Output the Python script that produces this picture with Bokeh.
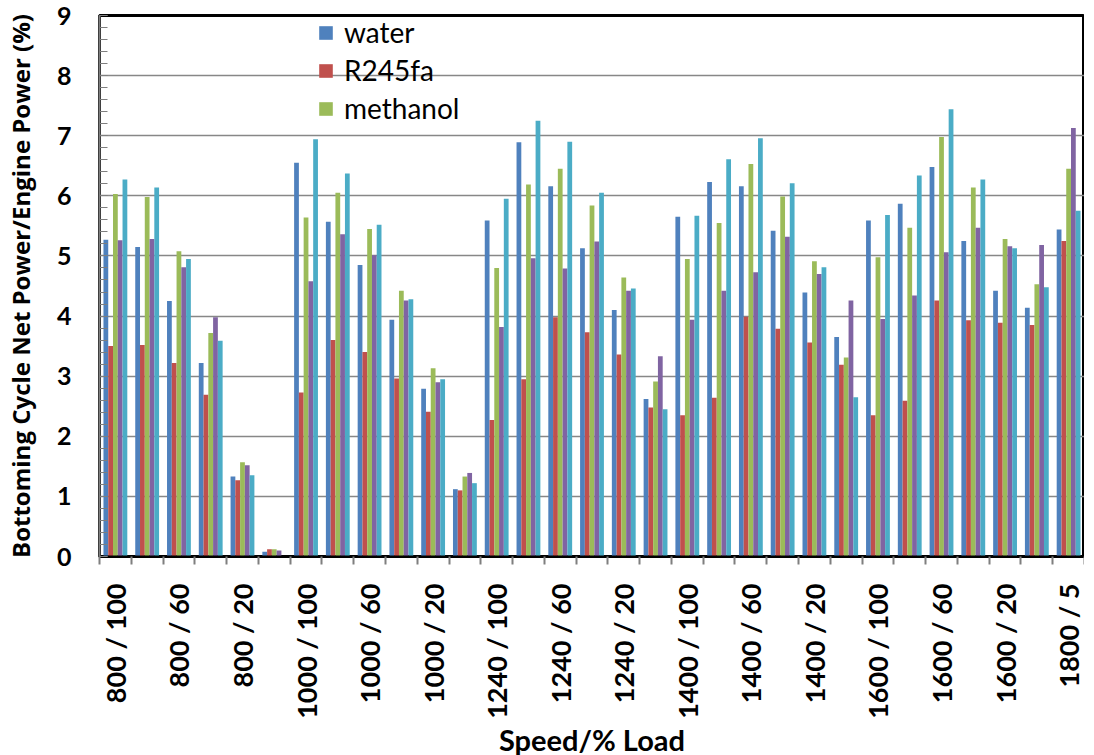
import math
from bokeh.plotting import figure
from bokeh.models import Range1d, FixedTicker, Legend, LegendItem
from bokeh.embed import file_html
from bokeh.resources import INLINE

categories = [
    "800 / 100", "800 / 80", "800 / 60", "800 / 40", "800 / 20", "800 / 5",
    "1000 / 100", "1000 / 80", "1000 / 60", "1000 / 40", "1000 / 20", "1000 / 5",
    "1240 / 100", "1240 / 80", "1240 / 60", "1240 / 40", "1240 / 20", "1240 / 5",
    "1400 / 100", "1400 / 80", "1400 / 60", "1400 / 40", "1400 / 20", "1400 / 5",
    "1600 / 100", "1600 / 80", "1600 / 60", "1600 / 40", "1600 / 20", "1600 / 5",
    "1800 / 5",
]
# every other category is labelled on the axis
labelled = [0, 2, 4, 6, 8, 10, 12, 14, 16, 18, 20, 22, 24, 26, 28, 30]

series_names = ["water", "R245fa", "methanol", "series 4", "series 5"]
series_colors = ["#4F81BD", "#C0504D", "#9BBB59", "#8064A2", "#4BACC6"]
legend_series = ["water", "R245fa", "methanol"]

water = [5.27, 5.15, 4.25, 3.22, 1.33, 0.08,
         6.55, 5.57, 4.85, 3.94, 2.79, 1.12,
         5.59, 6.89, 6.16, 5.13, 4.10, 2.62,
         5.65, 6.23, 6.16, 5.42, 4.39, 3.65,
         5.59, 5.87, 6.48, 5.25, 4.42, 4.14,
         5.44]
r245fa = [3.50, 3.52, 3.22, 2.69, 1.27, 0.12,
          2.73, 3.60, 3.40, 2.96, 2.41, 1.10,
          2.27, 2.95, 3.98, 3.73, 3.36, 2.48,
          2.35, 2.64, 3.99, 3.79, 3.56, 3.19,
          2.35, 2.59, 4.26, 3.93, 3.89, 3.85,
          5.25]
methanol = [6.03, 5.98, 5.08, 3.72, 1.57, 0.12,
            5.64, 6.05, 5.45, 4.42, 3.13, 1.33,
            4.80, 6.19, 6.45, 5.84, 4.64, 2.91,
            4.95, 5.55, 6.53, 5.99, 4.91, 3.31,
            4.98, 5.47, 6.98, 6.14, 5.28, 4.53,
            6.45]
series4 = [5.26, 5.28, 4.81, 3.98, 1.52, 0.10,
           4.58, 5.36, 5.01, 4.26, 2.90, 1.39,
           3.82, 4.96, 4.79, 5.24, 4.42, 3.33,
           3.94, 4.42, 4.73, 5.32, 4.70, 4.26,
           3.95, 4.34, 5.06, 5.47, 5.16, 5.18,
           7.13]
series5 = [6.27, 6.14, 4.95, 3.59, 1.35, 0.00,
           6.94, 6.37, 5.52, 4.28, 2.95, 1.22,
           5.95, 7.25, 6.90, 6.05, 4.46, 2.45,
           5.67, 6.61, 6.96, 6.21, 4.81, 2.65,
           5.68, 6.34, 7.44, 6.27, 5.13, 4.48,
           5.75]
all_series = [water, r245fa, methanol, series4, series5]

FONT = "Lato"
n = len(categories)
x_pos = [i + 1 for i in range(n)]
FRAME_H = 541

p = figure(frame_width=985, frame_height=FRAME_H, output_backend="svg",
           toolbar_location=None, x_range=Range1d(0.5, n + 0.5),
           y_range=Range1d(0, 9), min_border_left=95, min_border_top=15,
           min_border_right=0, min_border_bottom=10)

bar_w = 0.15
offsets = [-0.30, -0.15, 0.0, 0.15, 0.30]
renderers = {}
for name, vals, col, off in zip(series_names, all_series, series_colors, offsets):
    r = p.vbar(x=[x + off for x in x_pos], top=vals, bottom=0, width=bar_w,
               fill_color=col, line_color=None)
    renderers[name] = r

# grid
p.xgrid.visible = False
p.ygrid.grid_line_color = "#878787"
p.ygrid.grid_line_width = 1.6
p.ygrid.ticker = FixedTicker(ticks=list(range(0, 10)))

p.outline_line_color = "black"
p.outline_line_width = 3
p.background_fill_color = "white"
p.border_fill_color = "white"

# y axis
ya = p.yaxis[0]
ya.ticker = FixedTicker(ticks=list(range(0, 10)),
                        minor_ticks=[i * 0.2 for i in range(0, 46)])
ya.axis_line_color = "#7f7f7f"
ya.axis_line_width = 2
ya.major_tick_in = 8
ya.major_tick_out = 0
ya.minor_tick_in = 8
ya.minor_tick_out = 0
ya.major_tick_line_color = "#7f7f7f"
ya.minor_tick_line_color = "#7f7f7f"
ya.major_label_standoff = 28
ya.major_label_text_font = FONT
ya.major_label_text_font_style = "bold"
ya.major_label_text_font_size = "25px"
ya.major_label_text_color = "black"
ya.axis_label = "Bottoming Cycle Net Power/Engine Power (%)"
ya.axis_label_text_font = "Open Sans"
ya.axis_label_text_font_style = "bold"
ya.axis_label_text_font_size = "24px"
ya.axis_label_text_color = "black"
ya.axis_label_standoff = 17

# x axis
xa = p.xaxis[0]
xa.ticker = FixedTicker(ticks=[i + 1 for i in labelled],
                        minor_ticks=[i + 0.5 for i in range(n + 1)])
xa.major_label_overrides = {i + 1: categories[i] for i in labelled}
xa.major_label_orientation = math.pi / 2
xa.axis_line_color = "black"
xa.axis_line_width = 2
xa.major_tick_in = 0
xa.major_tick_out = 0
xa.minor_tick_in = 0
xa.minor_tick_out = 8
xa.minor_tick_line_color = "#7f7f7f"
xa.minor_tick_line_width = 2
xa.major_label_standoff = 19
xa.major_label_text_font = FONT
xa.major_label_text_font_style = "bold"
xa.major_label_text_font_size = "27px"
xa.major_label_text_color = "black"
xa.axis_label = "Speed/% Load"
xa.axis_label_text_font = FONT
xa.axis_label_text_font_style = "bold"
xa.axis_label_text_font_size = "29px"
xa.axis_label_text_color = "black"
xa.axis_label_standoff = 0

legend = Legend(items=[LegendItem(label=nm, renderers=[renderers[nm]]) for nm in legend_series],
                location=(218, FRAME_H - 110), orientation="vertical",
                padding=0, margin=0, spacing=4,
                glyph_width=17, glyph_height=17, label_standoff=10,
                label_height=20,
                label_text_font=FONT, label_text_font_size="28px",
                label_text_color="black",
                border_line_alpha=0, background_fill_alpha=0)
p.add_layout(legend)

open("out.html", "w").write(file_html(p, INLINE))
